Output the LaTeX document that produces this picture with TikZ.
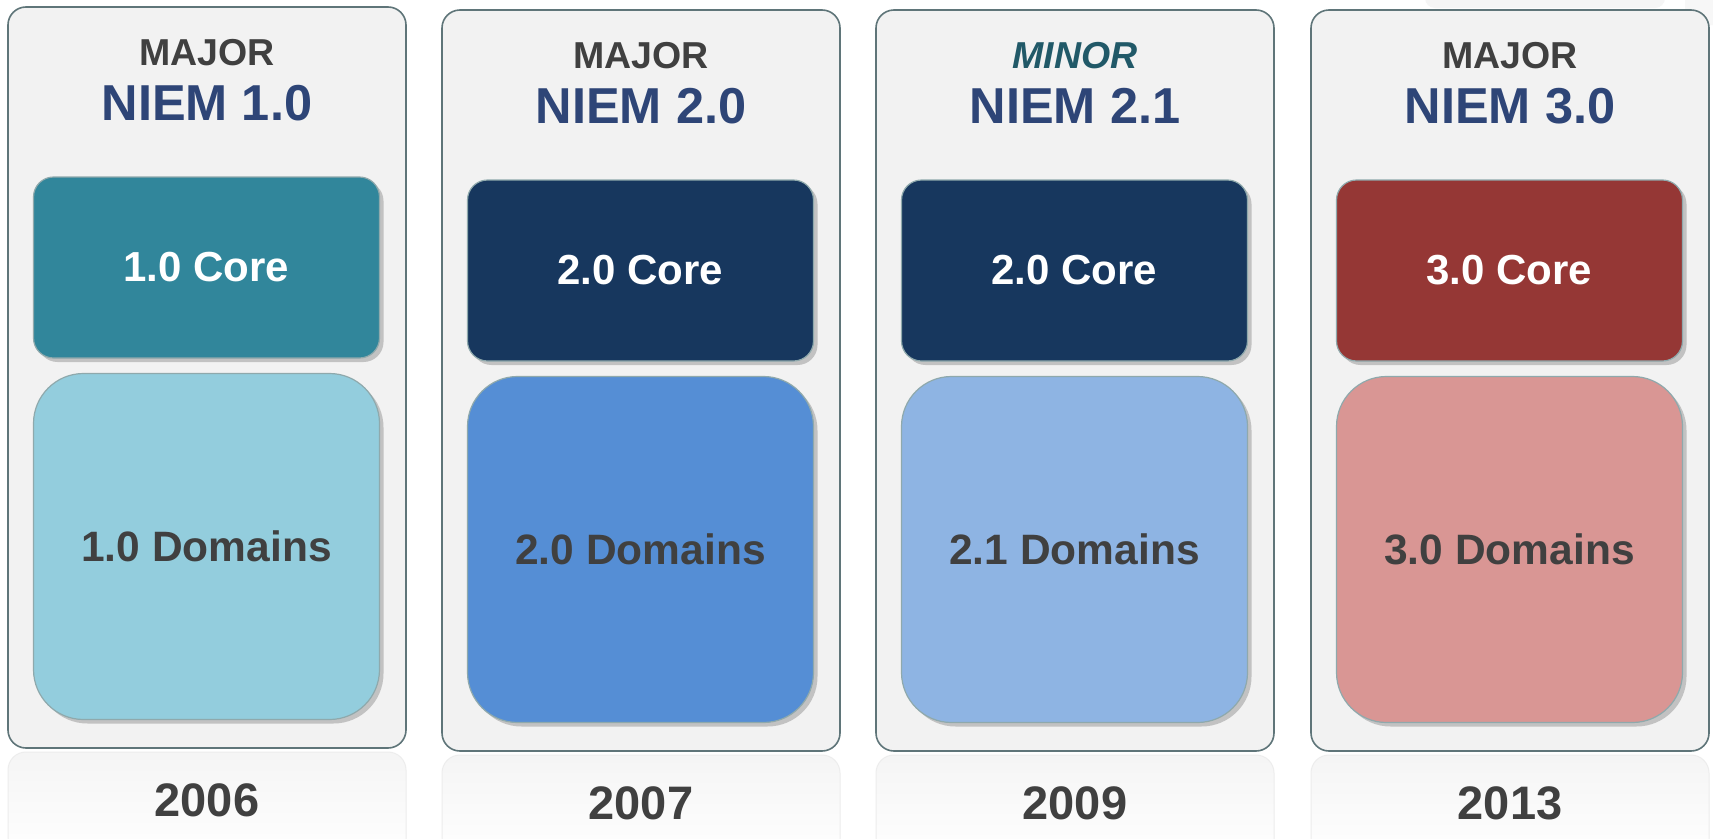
\documentclass[tikz,border=0pt]{standalone}
\usepackage{fontspec}
\setmainfont{Liberation Sans}
\usetikzlibrary{shadows}
\definecolor{panelborder}{HTML}{5F7579}
\definecolor{panelfill}{HTML}{F2F2F2}
\definecolor{boxborder}{HTML}{8FA9AC}
\definecolor{niemblue}{HTML}{2E4577}
\definecolor{darkgray}{HTML}{404040}
\definecolor{minorteal}{HTML}{215968}
\definecolor{coreA}{HTML}{31869B}
\definecolor{domA}{HTML}{93CDDD}
\definecolor{coreB}{HTML}{17375E}
\definecolor{domB}{HTML}{558ED5}
\definecolor{domC}{HTML}{8EB4E3}
\definecolor{coreD}{HTML}{953735}
\definecolor{domD}{HTML}{D99694}
\begin{document}
\begin{tikzpicture}[x=1pt,y=-1pt,
  panel/.style={draw=panelborder, line width=1.6pt, fill=panelfill, rounded corners=18pt},
  yearpanel/.style={draw=black!7, line width=1pt, rounded corners=18pt, top color=black!4, bottom color=white},
  boxbase/.style={draw=boxborder, line width=1.2pt, minimum width=346pt, inner sep=0pt,
    drop shadow={shadow xshift=4pt, shadow yshift=-4pt, opacity=0.25, fill=black!80}},
  corebox/.style={boxbase, rounded corners=20pt, minimum height=181pt, text=white,
    font=\fontsize{42}{50}\selectfont\bfseries},
  dombox/.style={boxbase, rounded corners=50pt, minimum height=346pt, text=darkgray,
    font=\fontsize{42.5}{50}\selectfont\bfseries},
  kindlabel/.style={text=darkgray, font=\fontsize{37.5}{44}\selectfont\bfseries, inner sep=0pt},
  minorlabel/.style={text=minorteal, font=\fontsize{37.5}{44}\selectfont\bfseries\itshape, inner sep=0pt},
  niemlabel/.style={text=niemblue, font=\fontsize{50.5}{58}\selectfont\bfseries, inner sep=0pt},
  yearlabel/.style={text=darkgray, font=\fontsize{47}{54}\selectfont\bfseries, inner sep=0pt}
]
\useasboundingbox (0,0) rectangle (1713,838);
\fill[white] (0,0) rectangle (1713,838);
% faint shapes at top right
\fill[black!4, rounded corners=10pt] (1425,-20) rectangle (1665,8);
\fill[black!3, rounded corners=10pt] (1685,-20) rectangle (1725,25);

\foreach \i/\cx/\dy/\kind/\kstyle/\ver/\corename/\corec/\domc/\year in {
  1/207/0/MAJOR/kindlabel/1.0/1.0/coreA/domA/2006,
  2/641/3/MAJOR/kindlabel/2.0/2.0/coreB/domB/2007,
  3/1075/3/MINOR/minorlabel/2.1/2.0/coreB/domC/2009,
  4/1510/3/MAJOR/kindlabel/3.0/3.0/coreD/domD/2013}{
  \draw[yearpanel] (\cx-199,752+\dy) rectangle (\cx+199,860);
  \draw[panel] (\cx-199,7+\dy) rectangle (\cx+199,748+\dy);
  \node[\kstyle] (kind\i) at (\cx,53+\dy) {\kind};
  \node[niemlabel] (niem\i) at (\cx,103+\dy) {NIEM \ver};
  \node[corebox, fill=\corec] (core\i) at (\cx-0.5,267.5+\dy) {\corename{} Core};
  \node[dombox, fill=\domc] (dom\i) at (\cx-0.5,546.5+\dy) {\ver{} Domains};
  \node[yearlabel] (year\i) at (\cx,800+\dy) {\year};
}
\end{tikzpicture}
\end{document}
